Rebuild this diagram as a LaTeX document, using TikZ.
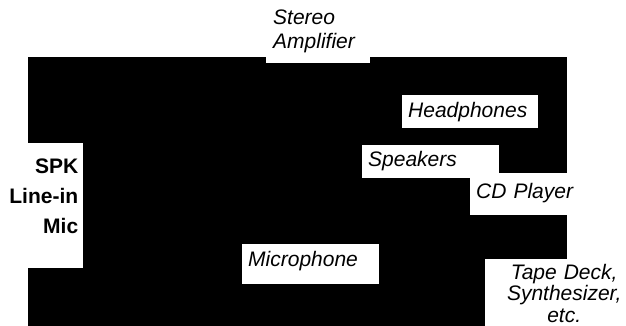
\documentclass[tikz,border=0pt]{standalone}
\usepackage{fontspec}
\setmainfont{Liberation Sans}

\begin{document}
\begin{tikzpicture}[
  x=1pt, y=-1pt,
  lbl/.style={fill=white, anchor=north west, inner xsep=6pt, inner ysep=0pt,
    align=left, font=\fontsize{21}{24}\selectfont\itshape},
  jack/.style={lbl, align=right, inner xsep=5pt,
    font=\fontsize{21}{30}\selectfont\bfseries}
]
\useasboundingbox (0,0) rectangle (626,326);
% the unit
\fill[black] (28,57) rectangle (567,326);
% labels
\node[lbl, inner xsep=7pt, text width=90pt, text height=24pt, text depth=39pt] (amp) at (266,0) {Stereo\\Amplifier};
\node[lbl, text width=124pt, text height=22pt, text depth=11pt] (phones) at (402,95) {Headphones};
\node[lbl, text width=125pt, text height=21pt, text depth=12pt] (spk) at (362,145) {Speakers};
\node[lbl, text width=144pt, text height=25pt, text depth=17pt] (cd) at (470,173) {CD Player};
\node[lbl, text width=125pt, text height=22pt, text depth=18pt] (mic) at (242,244) {Microphone};
\node[lbl, align=center, inner xsep=0pt, text width=158pt, text height=20pt, text depth=50pt,
  font=\fontsize{21}{21.5}\selectfont\itshape] (tape) at (485,259) {Tape Deck,\\Synthesizer,\\etc.};
\node[jack, text width=73pt, text height=30pt, text depth=95pt] (jacks) at (0,143) {SPK\\Line-in\\Mic};
\end{tikzpicture}
\end{document}
